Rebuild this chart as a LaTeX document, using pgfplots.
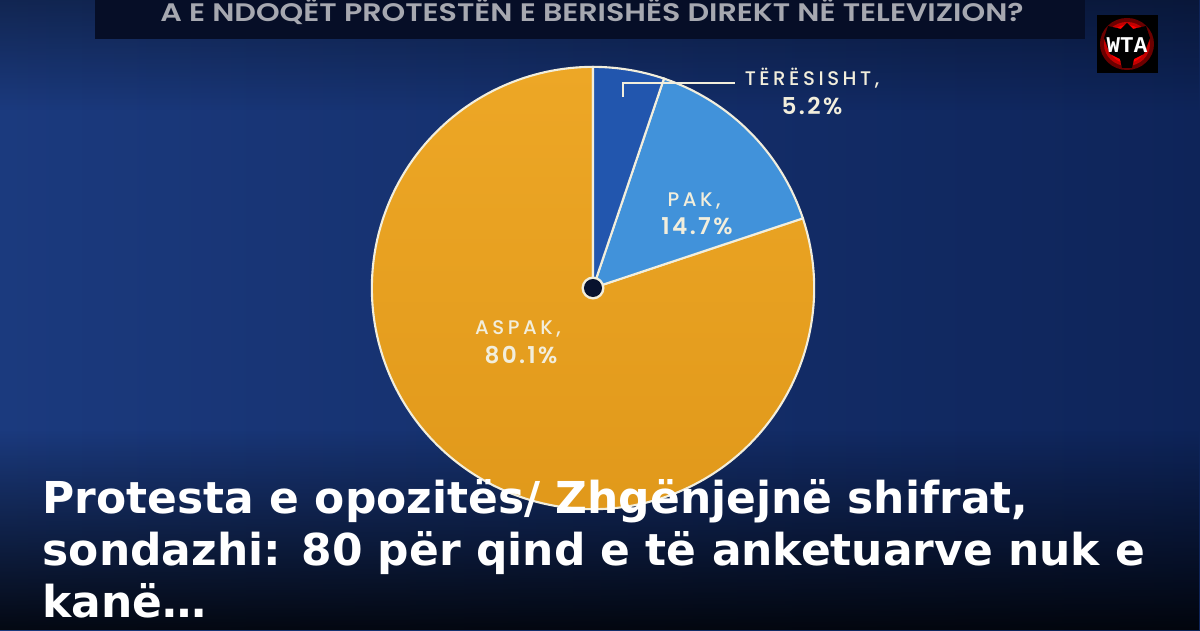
\documentclass[border=0pt]{standalone}
\usepackage{pgfplots}
\pgfplotsset{compat=1.18}
\usepackage{pgfplotstable}
\usepackage{fontspec}
\setmainfont{DejaVu Sans}
\newfontfamily\lab{Poppins}[UprightFont={* Medium},LetterSpace=18]
\newfontfamily\labn{Poppins}[UprightFont={* SemiBold},LetterSpace=10]
\newfontfamily\ttl{Poppins}[UprightFont={* SemiBold}]
\newfontfamily\logo{Liberation Mono}
\usetikzlibrary{fadings}
\definecolor{bgL}{HTML}{1B3A7E}
\definecolor{bgR}{HTML}{0E2459}
\definecolor{bar}{HTML}{060E27}
\definecolor{tblue}{HTML}{2256AE}
\definecolor{pblue}{HTML}{4192DA}
\definecolor{orA}{HTML}{EDA726}
\definecolor{orB}{HTML}{E0981A}
\definecolor{cream}{HTML}{F2EEDC}
\definecolor{navy}{HTML}{08122E}
\definecolor{ttlgray}{HTML}{A6A8B0}
\pgfplotstableread{
label value
TERESISHT 5.2
PAK 14.7
ASPAK 80.1
}\piedata
\begin{document}
\begin{tikzpicture}
\pgfplotstablegetelem{0}{value}\of\piedata \pgfmathsetmacro\va{\pgfplotsretval}
\pgfplotstablegetelem{1}{value}\of\piedata \pgfmathsetmacro\vb{\pgfplotsretval}
\pgfplotstablegetelem{2}{value}\of\piedata \pgfmathsetmacro\vc{\pgfplotsretval}
\pgfmathsetmacro\aA{90}
\pgfmathsetmacro\aB{\aA-3.6*\va}
\pgfmathsetmacro\aC{\aB-3.6*\vb}
\pgfmathsetmacro\aD{\aC-3.6*\vc}
\begin{axis}[x=0.01cm,y=0.01cm,xmin=0,xmax=1200,ymin=0,ymax=630,
  hide axis,clip=false,scale only axis]
% background
\shade[left color=bgL,right color=bgR] (axis cs:0,0) rectangle (axis cs:1200,630);
\fill[black,opacity=0.85,path fading=north] (axis cs:0,0) rectangle (axis cs:1200,200);
\fill[black,opacity=0.35,path fading=south] (axis cs:0,520) rectangle (axis cs:1200,630);
% title bar
\fill[bar] (axis cs:95,591) rectangle (axis cs:1085,630);
\node[anchor=base,text=ttlgray,font=\ttl\fontsize{7.2}{8}\selectfont,xscale=1.19,inner sep=0]
  at (axis cs:592,608) {A E NDOQËT PROTESTËN E BERISHËS DIREKT NË TELEVIZION?};
% logo
\fill[black] (axis cs:1097,557) rectangle (axis cs:1158,615);
\fill[red!60!black,opacity=0.7] (axis cs:1127,586) ellipse[x radius=0.27cm,y radius=0.26cm];
\fill[red!85!black,opacity=0.8] (axis cs:1127,586) ellipse[x radius=0.23cm,y radius=0.22cm];
\fill[red] (axis cs:1127,586) ellipse[x radius=0.19cm,y radius=0.19cm];
\fill[black] (axis cs:1127,607) -- (axis cs:1121,601) -- (axis cs:1108,604) -- (axis cs:1104,592)
  -- (axis cs:1110,576) -- (axis cs:1120,571) -- (axis cs:1122,562) -- (axis cs:1132,562)
  -- (axis cs:1134,571) -- (axis cs:1144,576) -- (axis cs:1150,592) -- (axis cs:1146,604)
  -- (axis cs:1133,601) -- cycle;
\node[text=white,font=\logo\bfseries\fontsize{6.4}{7}\selectfont,inner sep=0] at (axis cs:1127,585) {WTA};
% pie
\shade[top color=orA,bottom color=orB,draw=cream,line width=0.6pt]
  (axis cs:593,342) -- ++(\aC:2.21cm) arc[start angle=\aC,end angle=\aD,radius=2.21cm] -- cycle;
\fill[pblue,draw=cream,line width=0.6pt]
  (axis cs:593,342) -- ++(\aB:2.21cm) arc[start angle=\aB,end angle=\aC,radius=2.21cm] -- cycle;
\fill[tblue,draw=cream,line width=0.6pt]
  (axis cs:593,342) -- ++(\aA:2.21cm) arc[start angle=\aA,end angle=\aB,radius=2.21cm] -- cycle;
\fill[cream] (axis cs:593,342) circle[radius=0.115cm];
\fill[navy] (axis cs:593,342) circle[radius=0.09cm];
% leader
\draw[cream,line width=0.6pt] (axis cs:623,533) -- (axis cs:623,547) -- (axis cs:735,547);
% labels
\begin{scope}[every node/.style={anchor=base,inner sep=0,text=cream}]
\node[font=\lab\fontsize{5.6}{6}\selectfont] at (axis cs:812,544) {TËRËSISHT,};
\node[font=\labn\fontsize{6.6}{7}\selectfont] at (axis cs:812,515) {5.2\%};
\node[font=\lab\fontsize{5.6}{6}\selectfont] at (axis cs:694,423) {PAK,};
\node[font=\labn\fontsize{6.6}{7}\selectfont] at (axis cs:697,395) {14.7\%};
\node[font=\lab\fontsize{5.6}{6}\selectfont] at (axis cs:518,295) {ASPAK,};
\node[font=\labn\fontsize{6.6}{7}\selectfont] at (axis cs:521,267) {80.1\%};
\end{scope}
% headline
\begin{scope}[every node/.style={anchor=base west,inner sep=0,text=white,font=\bfseries\fontsize{12.5}{13}\selectfont}]
\node at (axis cs:42,117) {Protesta e opozitës/ Zhgënjejnë shifrat,};
\node at (axis cs:42,65) {sondazhi: 80 për qind e të anketuarve nuk e};
\node at (axis cs:42,13) {kanë…};
\end{scope}
\end{axis}
\pgfresetboundingbox
\useasboundingbox (current axis.south west) rectangle (current axis.north east);
\end{tikzpicture}
\end{document}
